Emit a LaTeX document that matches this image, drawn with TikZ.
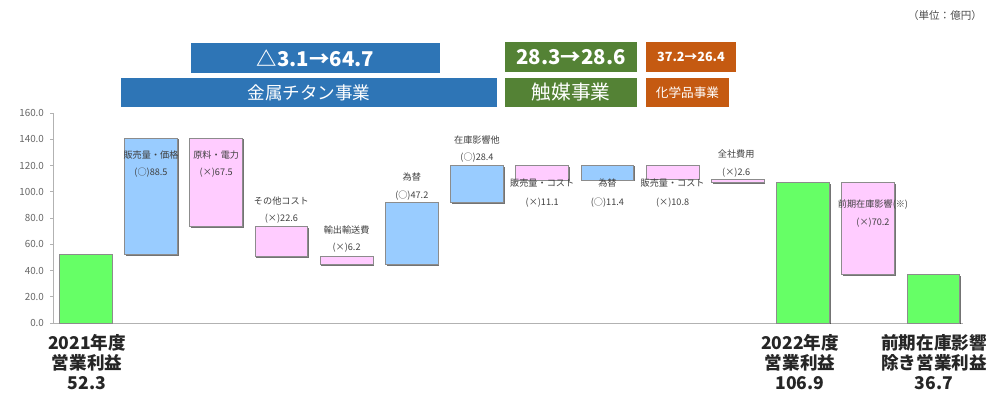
\documentclass[tikz,border=0pt]{standalone}
\usepackage{fontspec}
\setmainfont{Noto Sans CJK JP}
\usetikzlibrary{positioning,shadows}
\definecolor{tiblue}{HTML}{2E75B6}
\definecolor{catgreen}{HTML}{548235}
\definecolor{chemorange}{HTML}{C55A11}
\definecolor{profitgreen}{HTML}{66FF66}
\definecolor{upblue}{HTML}{99CCFF}
\definecolor{downpink}{HTML}{FFCCFF}
\tikzset{
	barshadow/.style={drop shadow={shadow xshift=0.9pt, shadow yshift=-0.9pt, opacity=0.55, fill=black}},
	profit/.style={fill=profitgreen, draw=black!45, line width=0.5pt, barshadow},
	gain/.style={fill=upblue, draw=black!45, line width=0.5pt, barshadow},
	loss/.style={fill=downpink, draw=black!45, line width=0.5pt, barshadow},
	axisline/.style={draw=black!30, line width=0.6pt},
	ticklabel/.style={anchor=east, inner sep=0pt, text=black!60, font=\fontsize{7}{8}\selectfont},
	barlabel/.style={inner sep=0pt, text=black!75, font=\fontsize{6.5}{8}\selectfont},
	headbox/.style={inner sep=0pt, text=white},
	totallabel/.style={anchor=north, align=center, inner sep=0pt, text=black!85, font=\bfseries\fontsize{12.5}{14.2}\selectfont}
}

\begin{document}
\begin{tikzpicture}
		%%%%% START %%%%%
		\useasboundingbox (0, 0) rectangle (24.7, 9.9);
		
		\node[inner sep=0pt, text=black!70, font=\fontsize{7.5}{9}\selectfont] (unit) at (23.625, 9.525) {（単位：億円）};
		
		% segment headers
		\node[headbox, fill=tiblue, minimum width=6.225cm, minimum height=0.75cm, font=\bfseries\fontsize{14.5}{16}\selectfont] (tichange) at (7.8875, 8.45) {△3.1→64.7};
		\node[headbox, fill=tiblue, minimum width=9.4cm, minimum height=0.725cm, font=\fontsize{12.5}{14}\selectfont] (tiname) at (7.725, 7.5875) {金属チタン事業};
		\node[headbox, fill=catgreen, minimum width=3.3cm, minimum height=0.75cm, font=\bfseries\fontsize{14.5}{16}\selectfont] (catchange) at (14.275, 8.475) {28.3→28.6};
		\node[headbox, fill=catgreen, minimum width=3.3cm, minimum height=0.725cm, font=\fontsize{14}{16}\selectfont] (catname) at (14.275, 7.5875) {触媒事業};
		\node[headbox, fill=chemorange, minimum width=2.25cm, minimum height=0.75cm, font=\bfseries\fontsize{9}{11}\selectfont] (chemchange) at (17.275, 8.475) {37.2→26.4};
		\node[headbox, fill=chemorange, minimum width=2.075cm, minimum height=0.725cm, font=\fontsize{9}{11}\selectfont] (chemname) at (17.1875, 7.5875) {化学品事業};
		
		\begin{scope}[shift={(1.325, 1.825)}, y=0.0328125cm]
		% axis
		\draw[axisline] (0, 0) -- (0, 160);
		\draw[axisline] (0, 0) -- (22.75, 0);
		\draw[axisline] (-0.075, 0) -- (0, 0);
		\draw[axisline] (-0.075, 20) -- (0, 20);
		\draw[axisline] (-0.075, 40) -- (0, 40);
		\draw[axisline] (-0.075, 60) -- (0, 60);
		\draw[axisline] (-0.075, 80) -- (0, 80);
		\draw[axisline] (-0.075, 100) -- (0, 100);
		\draw[axisline] (-0.075, 120) -- (0, 120);
		\draw[axisline] (-0.075, 140) -- (0, 140);
		\draw[axisline] (-0.075, 160) -- (0, 160);
		\node[ticklabel] (tick0) at (-0.22, 0) {0.0};
		\node[ticklabel] (tick20) at (-0.22, 20) {20.0};
		\node[ticklabel] (tick40) at (-0.22, 40) {40.0};
		\node[ticklabel] (tick60) at (-0.22, 60) {60.0};
		\node[ticklabel] (tick80) at (-0.22, 80) {80.0};
		\node[ticklabel] (tick100) at (-0.22, 100) {100.0};
		\node[ticklabel] (tick120) at (-0.22, 120) {120.0};
		\node[ticklabel] (tick140) at (-0.22, 140) {140.0};
		\node[ticklabel] (tick160) at (-0.22, 160) {160.0};
		
		% bars
		\draw[profit] (0.16, 0) rectangle (1.48, 52.3);
		\draw[gain] (1.79, 52.3) rectangle (3.11, 140.8);
		\draw[loss] (3.42, 73.3) rectangle (4.74, 140.8);
		\draw[loss] (5.05, 50.7) rectangle (6.37, 73.3);
		\draw[loss] (6.68, 44.5) rectangle (8.00, 50.7);
		\draw[gain] (8.31, 44.5) rectangle (9.63, 91.7);
		\draw[gain] (9.94, 91.7) rectangle (11.26, 120.1);
		\draw[loss] (11.57, 109.0) rectangle (12.89, 120.1);
		\draw[gain] (13.20, 109.0) rectangle (14.52, 120.4);
		\draw[loss] (14.83, 109.6) rectangle (16.15, 120.4);
		\draw[loss] (16.46, 107.0) rectangle (17.78, 109.6);
		\draw[profit] (18.09, 0) rectangle (19.41, 106.9);
		\draw[loss] (19.72, 36.7) rectangle (21.04, 106.9);
		\draw[profit] (21.35, 0) rectangle (22.67, 36.7);
		
		% bar labels
		\node[barlabel] (salesname) at (2.45, 128) {販売量・価格};
		\node[barlabel] (salesval) at (2.45, 114.3) {(○)88.5};
		\node[barlabel] (rawname) at (4.08, 128) {原料・電力};
		\node[barlabel] (rawval) at (4.08, 114.3) {(×)67.5};
		\node[barlabel] (othername) at (5.71, 93) {その他コスト};
		\node[barlabel] (otherval) at (5.71, 79.2) {(×)22.6};
		\node[barlabel] (freightname) at (7.34, 70.9) {輸出輸送費};
		\node[barlabel] (freightval) at (7.34, 57.1) {(×)6.2};
		\node[barlabel] (fxname) at (8.97, 111.2) {為替};
		\node[barlabel] (fxval) at (8.97, 96.8) {(○)47.2};
		\node[barlabel] (stockname) at (10.60, 139.4) {在庫影響他};
		\node[barlabel] (stockval) at (10.60, 125.7) {(○)28.4};
		\node[barlabel] (catsalesname) at (12.23, 106.7) {販売量・コスト};
		\node[barlabel] (catsalesval) at (12.23, 91.4) {(×)11.1};
		\node[barlabel] (catfxname) at (13.86, 106.7) {為替};
		\node[barlabel] (catfxval) at (13.86, 91.4) {(○)11.4};
		\node[barlabel] (chemsalesname) at (15.49, 106.7) {販売量・コスト};
		\node[barlabel] (chemsalesval) at (15.49, 91.4) {(×)10.8};
		\node[barlabel] (corpname) at (17.08, 128.8) {全社費用};
		\node[barlabel] (corpval) at (17.08, 114.3) {(×)2.6};
		\node[barlabel] (prevname) at (20.5, 89.9) {前期在庫影響(※)};
		\node[barlabel] (prevval) at (20.5, 76.2) {(×)70.2};
		\end{scope}
		
		% totals
		\node[totallabel] (fy21) at (2.175, 1.55) {2021年度\\営業利益\\52.3};
		\node[totallabel] (fy22) at (20.0, 1.55) {2022年度\\営業利益\\106.9};
		\node[totallabel] (exstock) at (23.35, 1.55) {前期在庫影響\\除き営業利益\\36.7};
		%%%%% END %%%%%
	\end{tikzpicture}
\end{document}
